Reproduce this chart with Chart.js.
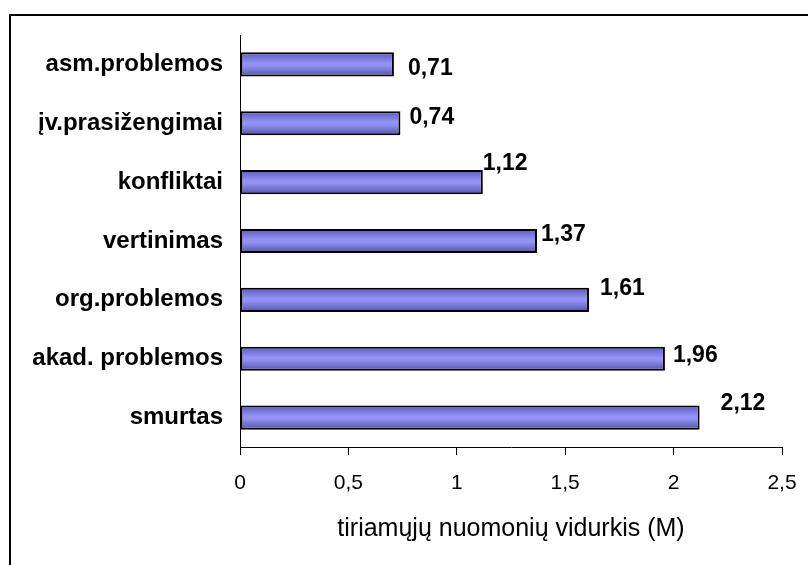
<!DOCTYPE html>
<html>
<head>
<meta charset="utf-8">
<script src="https://cdn.jsdelivr.net/npm/chart.js@4/dist/chart.umd.min.js"></script>
<style>
  html, body { margin: 0; padding: 0; background: #fff; }
  #wrap { width: 808px; height: 565px; position: relative; }
</style>
</head>
<body>
<div id="wrap"><canvas id="c" width="808" height="565"></canvas></div>
<script>
// ---- data ----
const categories = ['asm.problemos', 'įv.prasižengimai', 'konfliktai', 'vertinimas', 'org.problemos', 'akad. problemos', 'smurtas'];
const values = [0.71, 0.74, 1.12, 1.37, 1.61, 1.96, 2.12];
const valueLabels = ['0,71', '0,74', '1,12', '1,37', '1,61', '1,96', '2,12'];
const xTickLabels = ['0', '0,5', '1', '1,5', '2', '2,5'];
const xTitle = 'tiriamųjų nuomonių vidurkis (M)';

// ---- label placement (style) ----
const labelStyle = {
  dx: [14, 9, 0, 4, 11, 8, 21],
  dy: [4, -6, -18, -6, -11, -3, -14]
};

const FONT = "'Liberation Sans', Arial, sans-serif";

const framePlugin = {
  id: 'frame',
  beforeDraw(chart) {
    const ctx = chart.ctx;
    ctx.save();
    ctx.fillStyle = '#ffffff';
    ctx.fillRect(0, 0, chart.width, chart.height);
    ctx.fillStyle = '#000000';
    ctx.fillRect(9, 14, chart.width, 2);
    ctx.fillRect(9, 14, 2, chart.height);
    ctx.restore();
  }
};

const valueLabelPlugin = {
  id: 'valueLabels',
  afterDatasetsDraw(chart) {
    const ctx = chart.ctx;
    const meta = chart.getDatasetMeta(0);
    ctx.save();
    ctx.font = "bold 23px " + FONT;
    ctx.fillStyle = '#000';
    ctx.textAlign = 'left';
    ctx.textBaseline = 'middle';
    meta.data.forEach((el, i) => {
      ctx.fillText(valueLabels[i], el.x + labelStyle.dx[i], el.y + labelStyle.dy[i]);
    });
    ctx.restore();
  }
};

function barFill(c) {
  const chart = c.chart;
  const ys = chart.scales && chart.scales.y;
  if (!ys || c.dataIndex == null || !chart.chartArea) return '#9090f0';
  const yc = ys.getPixelForValue(c.dataIndex);
  const h = 12;
  const g = chart.ctx.createLinearGradient(0, yc - h, 0, yc + h);
  g.addColorStop(0, '#5a5abc');
  g.addColorStop(0.45, '#9494f8');
  g.addColorStop(0.55, '#9292f4');
  g.addColorStop(1, '#5252aa');
  return g;
}

new Chart(document.getElementById('c'), {
  type: 'bar',
  data: {
    labels: categories,
    datasets: [{
      data: values,
      backgroundColor: barFill,
      borderColor: '#000000',
      borderWidth: 2,
      borderSkipped: false,
      barPercentage: 0.41,
      categoryPercentage: 1.0
    }]
  },
  options: {
    indexAxis: 'y',
    responsive: false,
    animation: false,
    devicePixelRatio: 1,
    layout: { padding: { left: 0, top: 35, right: 26, bottom: 0 } },
    plugins: {
      legend: { display: false },
      tooltip: { enabled: false },
      title: { display: false }
    },
    scales: {
      x: {
        type: 'linear',
        min: 0,
        max: 2.5,
        afterFit(scale) { scale.height = 118; scale.paddingRight = 0; scale.paddingLeft = 0; },
        border: { display: true, color: '#000', width: 1 },
        grid: { display: true, drawOnChartArea: false, drawTicks: true, tickLength: 8, color: '#000', lineWidth: 1 },
        ticks: {
          stepSize: 0.5,
          padding: 16,
          color: '#000',
          font: { family: FONT, size: 21 },
          maxRotation: 0,
          callback: (v, i) => xTickLabels[i]
        },
        title: {
          display: true,
          text: xTitle,
          color: '#000',
          font: { family: FONT, size: 25 },
          padding: { top: 0, bottom: 21 }
        }
      },
      y: {
        afterFit(scale) { scale.width = 240; scale.paddingTop = 0; scale.paddingBottom = 0; },
        border: { display: true, color: '#000', width: 1 },
        grid: { display: false, drawTicks: false },
        ticks: {
          padding: 17,
          color: '#000',
          font: { family: FONT, size: 24, weight: 'bold' }
        }
      }
    }
  },
  plugins: [framePlugin, valueLabelPlugin]
});
</script>
</body>
</html>
